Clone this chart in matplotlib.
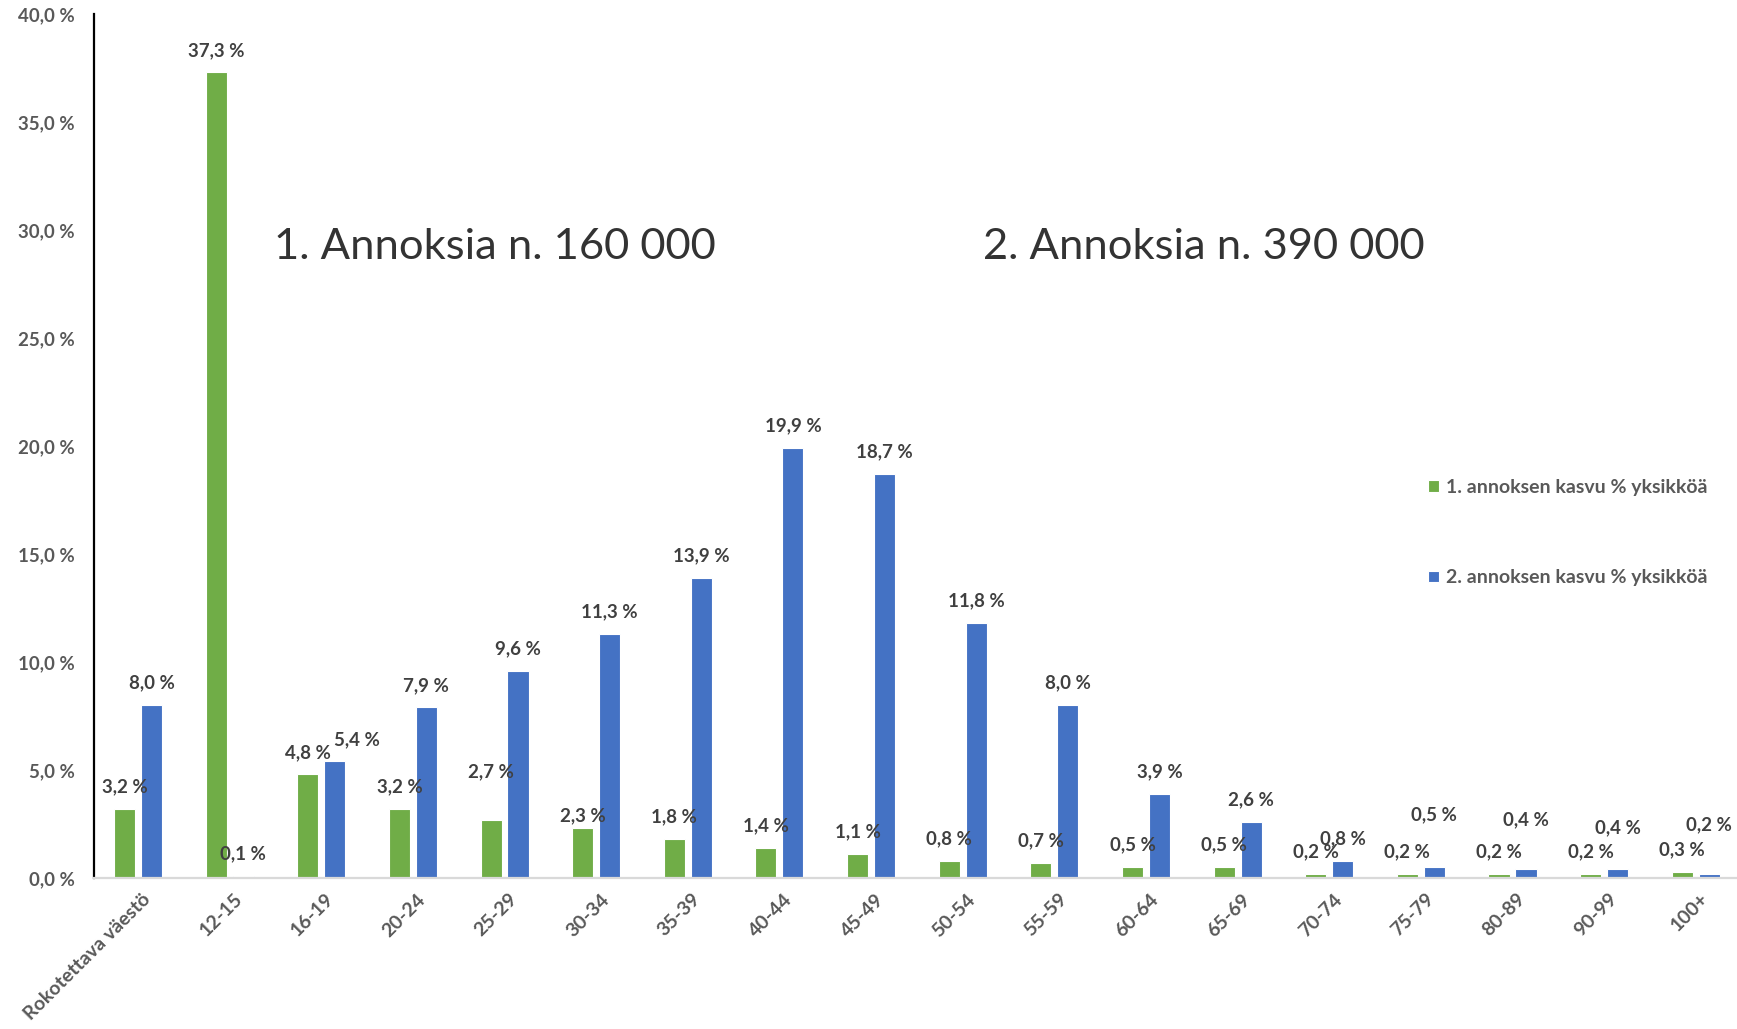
import matplotlib.pyplot as plt
import numpy as np
from matplotlib.transforms import ScaledTranslation

plt.rcParams['font.family'] = ['Lato', 'DejaVu Sans']

categories = ['Rokotettava väestö', '12-15', '16-19', '20-24', '25-29', '30-34', '35-39',
              '40-44', '45-49', '50-54', '55-59', '60-64', '65-69', '70-74', '75-79',
              '80-89', '90-99', '100+']
dose1 = [3.2, 37.3, 4.8, 3.2, 2.7, 2.3, 1.8, 1.4, 1.1, 0.8, 0.7, 0.5, 0.5, 0.2, 0.2, 0.2, 0.2, 0.3]
dose2 = [8.0, 0.1, 5.4, 7.9, 9.6, 11.3, 13.9, 19.9, 18.7, 11.8, 8.0, 3.9, 2.6, 0.8, 0.5, 0.4, 0.4, 0.2]
series_names = ['1. annoksen kasvu % yksikköä', '2. annoksen kasvu % yksikköä']
notes = ['1. Annoksia n. 160 000', '2. Annoksia n. 390 000']

# label placement tweaks (pixels), like the hand-moved labels in the original
lift1 = {4: 48, 5: 13}
lift2 = {14: 52, 15: 50, 16: 42, 17: 49}
shift2 = {2: 22}

green = '#70AD47'
blue = '#4472C4'

fig = plt.figure(figsize=(17.37, 10.29), dpi=100)
ax = fig.add_axes([94 / 1737, 1 - 878 / 1029, 1 - 94 / 1737, (878 - 14) / 1029])

x = np.arange(len(categories))
w = 0.23
off = 0.147
b1 = ax.bar(x - off, dose1, w, color=green, edgecolor='white', linewidth=0.8, label=series_names[0])
b2 = ax.bar(x + off, dose2, w, color=blue, edgecolor='white', linewidth=0.8, label=series_names[1])

def fmt(v):
    return f'{v:.1f}'.replace('.', ',') + ' %'

for i, v in enumerate(dose1):
    ax.annotate(fmt(v), (x[i] - off, v), xytext=(0, lift1.get(i, 22)), textcoords='offset pixels',
                ha='center', va='center', fontsize=13.5, fontweight='bold', color='#404040')
for i, v in enumerate(dose2):
    ax.annotate(fmt(v), (x[i] + off, v), xytext=(shift2.get(i, 0), lift2.get(i, 22)),
                textcoords='offset pixels', ha='center', va='center', fontsize=13.5,
                fontweight='bold', color='#404040')

ax.set_xlim(-0.48, 17.45)
ax.set_ylim(0, 40)
ax.set_yticks(np.arange(0, 41, 5))
ax.set_yticklabels([fmt(t) for t in np.arange(0, 41, 5)])
ax.set_xticks(x)
ax.set_xticklabels(categories, rotation=45, ha='right', rotation_mode='anchor')
ax.tick_params(axis='y', length=0, pad=14, labelsize=13.5, labelcolor='#595959')
ax.tick_params(axis='x', length=0, pad=9, labelsize=14, labelcolor='#595959')
for lbl in ax.get_yticklabels() + ax.get_xticklabels():
    lbl.set_fontweight('bold')
for lbl in ax.get_xticklabels():
    lbl.set_transform(lbl.get_transform() + ScaledTranslation(0.04, 0, fig.dpi_scale_trans))

for s in ['top', 'right']:
    ax.spines[s].set_visible(False)
ax.spines['left'].set_color('black')
ax.spines['left'].set_linewidth(1.6)
ax.spines['bottom'].set_color('#d9d9d9')
ax.spines['bottom'].set_linewidth(1.6)

fig.text(495 / 1737, 1 - 247 / 1029, notes[0], fontsize=31.3, color='#333333', ha='center', va='center')
fig.text(1204 / 1737, 1 - 247 / 1029, notes[1], fontsize=31.3, color='#333333', ha='center', va='center')

leg = ax.legend(loc='upper left', bbox_to_anchor=(1428 / 1737, 1 - 479 / 1029),
                bbox_transform=fig.transFigure, frameon=False, borderpad=0, borderaxespad=0,
                handlelength=0.55, handleheight=0.55, handletextpad=0.35, labelspacing=3.78,
                prop={'size': 14, 'weight': 'bold'})
for t in leg.get_texts():
    t.set_color('#595959')

fig.savefig('out.png', dpi=100)
